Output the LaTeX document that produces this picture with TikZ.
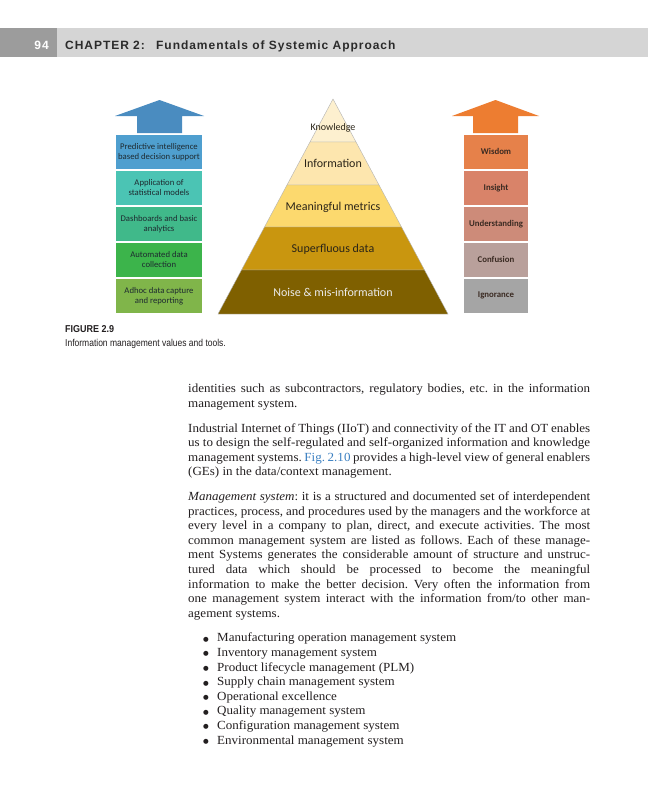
\documentclass[tikz,border=0pt]{standalone}
\usepackage{fontspec}
\setmainfont{Liberation Serif}[FakeStretch=1.05]
\newfontfamily\dgfont{Carlito}
\newfontfamily\hdfont{Liberation Sans}[LetterSpace=8]
\newfontfamily\capfont{Liberation Sans}[FakeStretch=0.9]
\newfontfamily\capcond{Liberation Sans}[FakeStretch=0.85]
\newfontfamily\bulfont{DejaVu Sans}
\frenchspacing
\definecolor{hdrlight}{HTML}{D5D5D5}
\definecolor{hdrdark}{HTML}{9C9C9C}
\definecolor{hdrtext}{HTML}{2B2B2B}
\definecolor{larrow}{HTML}{4A8CC0}
\definecolor{lbA}{HTML}{4F9FCF}
\definecolor{lbB}{HTML}{4BC4B4}
\definecolor{lbC}{HTML}{40B98A}
\definecolor{lbD}{HTML}{3CB44B}
\definecolor{lbE}{HTML}{80B54A}
\definecolor{lbtext}{HTML}{1E2A30}
\definecolor{rarrow}{HTML}{ED7D31}
\definecolor{rbA}{HTML}{E6814A}
\definecolor{rbB}{HTML}{D98369}
\definecolor{rbC}{HTML}{CD8B79}
\definecolor{rbD}{HTML}{B9A09B}
\definecolor{rbE}{HTML}{A5A5A5}
\definecolor{rbtext}{HTML}{3A2A22}
\definecolor{pyA}{HTML}{FDF0CF}
\definecolor{pyB}{HTML}{FDE6AE}
\definecolor{pyC}{HTML}{FCD96E}
\definecolor{pyD}{HTML}{C9960F}
\definecolor{pyE}{HTML}{7F6000}
\definecolor{pytext}{HTML}{2A2418}
\definecolor{bodytext}{HTML}{231F20}
\definecolor{linkblue}{HTML}{3A7FC1}
\tikzset{
  lbox/.style={minimum width=86pt, minimum height=33.5pt, inner sep=0pt, align=center,
    font=\dgfont\fontsize{8.7}{10}\selectfont, text=lbtext},
  rbox/.style={minimum width=64pt, minimum height=33.5pt, inner sep=0pt, align=center,
    font=\dgfont\bfseries\fontsize{8.8}{10}\selectfont, text=rbtext},
  pylayer/.style={draw=black!30, line width=0.4pt},
  pylabel/.style={inner sep=0pt, font=\dgfont\fontsize{12}{14}\selectfont, text=pytext},
  bodyline/.style={anchor=base west, inner sep=0pt, font=\fontsize{12.4}{15}\selectfont, text=bodytext},
  hdr/.style={anchor=base west, inner sep=0pt, font=\hdfont\bfseries\fontsize{12}{14}\selectfont, text=hdrtext}
}
\begin{document}
\begin{tikzpicture}[x=1pt,y=-1pt]
\useasboundingbox (0,0) rectangle (648,800);
\fill[white] (0,0) rectangle (648,800);
% header
\fill[hdrlight] (0,28) rectangle (648,57);
\fill[hdrdark] (0,28) rectangle (57,57);
\node[hdr, anchor=base east, text=white] (pg) at (49,49) {94};
\node[hdr] (chap) at (65,49) {CHAPTER 2:};
\node[hdr] (ctitle) at (156,49) {Fundamentals of Systemic Approach};
% left arrow and boxes
\fill[larrow] (137,133) -- (137,116) -- (115,116) -- (159.5,100) -- (204,116) -- (182,116) -- (182,133) -- cycle;
\node[lbox, fill=lbA] (la) at (159,151.75) {Predictive intelligence\\based decision support};
\node[lbox, fill=lbB] (lb) at (159,187.75) {Application of\\statistical models};
\node[lbox, fill=lbC] (lc) at (159,223.75) {Dashboards and basic\\analytics};
\node[lbox, fill=lbD] (ld) at (159,259.75) {Automated data\\collection};
\node[lbox, fill=lbE] (le) at (159,295.75) {Adhoc data capture\\and reporting};
% right arrow and boxes
\fill[rarrow] (473,133) -- (473,116) -- (452,116) -- (495.5,100) -- (539,116) -- (518,116) -- (518,133) -- cycle;
\node[rbox, fill=rbA] (ra) at (496,151.75) {Wisdom};
\node[rbox, fill=rbB] (rb) at (496,187.75) {Insight};
\node[rbox, fill=rbC] (rc) at (496,223.75) {Understanding};
\node[rbox, fill=rbD] (rd) at (496,259.75) {Confusion};
\node[rbox, fill=rbE] (re) at (496,295.75) {Ignorance};
% pyramid
\filldraw[pylayer, fill=pyA] (333,99) -- (356,142) -- (310,142) -- cycle;
\filldraw[pylayer, fill=pyB] (310,142) -- (356,142) -- (379,185) -- (287,185) -- cycle;
\filldraw[pylayer, fill=pyC] (287,185) -- (379,185) -- (401.5,227) -- (264.5,227) -- cycle;
\filldraw[pylayer, fill=pyD] (264.5,227) -- (401.5,227) -- (424.5,270) -- (241.5,270) -- cycle;
\filldraw[pylayer, fill=pyE] (241.5,270) -- (424.5,270) -- (448,314) -- (218,314) -- cycle;
\node[pylabel, font=\dgfont\fontsize{10}{12}\selectfont] (pk) at (333,128) {Knowledge};
\node[pylabel] (pi) at (333,163) {Information};
\node[pylabel] (pm) at (333,207) {Meaningful metrics};
\node[pylabel] (ps) at (333,249) {Superfluous data};
\node[pylabel, text=white!92!black] (pn) at (333,292) {Noise \& mis-information};
% caption
\node[anchor=base west, inner sep=0pt, font=\capfont\bfseries\fontsize{10}{12}\selectfont, text=bodytext] (fig) at (65,332) {FIGURE 2.9};
\node[anchor=base west, inner sep=0pt, font=\capcond\fontsize{10}{12}\selectfont, text=bodytext] (figcap) at (65,346) {Information management values and tools.};
% body text
\node[bodyline] (a1) at (188,392.5) {\makebox[402pt][s]{identities such as subcontractors, regulatory bodies, etc. in the information}};
\node[bodyline] (a2) at (188,407.1) {management system.};
\node[bodyline] (b1) at (188,432) {\makebox[402pt][s]{Industrial Internet of Things (IIoT) and connectivity of the IT and OT enables}};
\node[bodyline] (b2) at (188,446.6) {\makebox[402pt][s]{us to design the self-regulated and self-organized information and knowledge}};
\node[bodyline] (b3) at (188,461.2) {\makebox[402pt][s]{management systems. \textcolor{linkblue}{Fig.~2.10} provides a high-level view of general enablers}};
\node[bodyline] (b4) at (188,475.8) {(GEs) in the data/context management.};
\node[bodyline] (c1) at (188,500.4) {\makebox[402pt][s]{\textit{Management system}: it is a structured and documented set of interdependent}};
\node[bodyline] (c2) at (188,515) {\makebox[402pt][s]{practices, process, and procedures used by the managers and the workforce at}};
\node[bodyline] (c3) at (188,529.6) {\makebox[402pt][s]{every level in a company to plan, direct, and execute activities. The most}};
\node[bodyline] (c4) at (188,544.2) {\makebox[402pt][s]{common management system are listed as follows. Each of these manage-}};
\node[bodyline] (c5) at (188,558.8) {\makebox[402pt][s]{ment Systems generates the considerable amount of structure and unstruc-}};
\node[bodyline] (c6) at (188,573.4) {\makebox[402pt][s]{tured data which should be processed to become the meaningful}};
\node[bodyline] (c7) at (188,588) {\makebox[402pt][s]{information to make the better decision. Very often the information from}};
\node[bodyline] (c8) at (188,602.6) {\makebox[402pt][s]{one management system interact with the information from/to other man-}};
\node[bodyline] (c9) at (188,617.2) {agement systems.};
\foreach \yy/\itm [count=\i] in {641.8/Manufacturing operation management system,
  656.4/Inventory management system,
  671/Product lifecycle management (PLM),
  685.6/Supply chain management system,
  700.2/Operational excellence,
  714.8/Quality management system,
  729.4/Configuration management system,
  744/Environmental management system}{
  \node[bodyline, font=\bulfont\fontsize{6.5}{8}\selectfont] (bul\i) at (203,\yy-0.5) {●};
  \node[bodyline] (item\i) at (217,\yy) {\itm};
}
\end{tikzpicture}
\end{document}
